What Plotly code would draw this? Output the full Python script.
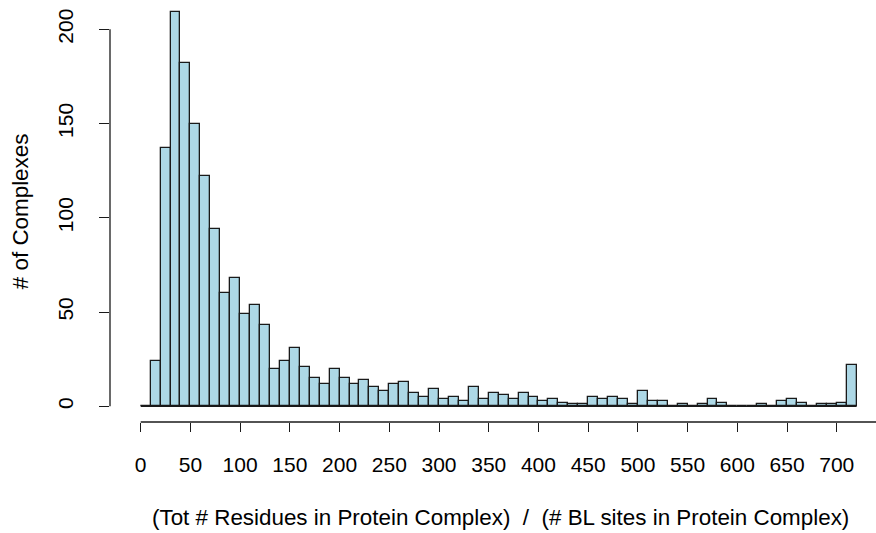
import plotly.graph_objects as go

# Histogram bins: [0,10), [10,20), ..., [710,720)
bin_width = 10
bin_starts = list(range(0, 720, 10))
counts = [0, 24, 137, 209, 182, 150, 122, 94, 60, 68,
          49, 54, 43, 20, 24, 31, 21, 15, 12, 20,
          15, 12, 14, 10, 8, 12, 13, 7, 5, 9,
          4, 5, 3, 10, 4, 7, 6, 4, 7, 5,
          3, 4, 2, 1, 1, 5, 4, 5, 4, 1,
          8, 3, 3, 0, 1, 0, 1, 4, 2, 0,
          0, 0, 1, 0, 3, 4, 2, 0, 1, 1,
          2, 22]
x_ticks = list(range(0, 701, 50))
y_ticks = [0, 50, 100, 150, 200]
x_title = "(Tot # Residues in Protein Complex)\u00a0\u00a0/\u00a0\u00a0(# BL sites in Protein Complex)"
y_title = "# of Complexes"

centers = [s + bin_width / 2 for s in bin_starts]

W, H = 876, 533
L, R, T, B = 110, 0, 10, 111.3
plot_w = W - L - R
plot_h = H - T - B
px_per_x = 0.9944
px_per_y = 1.8835
x0 = -(140.7 - L) / px_per_x
x1 = x0 + plot_w / px_per_x
y0 = -(H - B - 406) / px_per_y
y1 = y0 + plot_h / px_per_y

FONT = "Liberation Sans, Arial, Helvetica, sans-serif"
LINE = "#1a1a1a"

fig = go.Figure()
# baseline for empty bins (R draws flat rectangles)
fig.add_trace(go.Scatter(x=[bin_starts[0], bin_starts[-1] + bin_width], y=[0, 0],
                         mode="lines", line=dict(color=LINE, width=1.3),
                         hoverinfo="skip", showlegend=False))
fig.add_trace(go.Bar(x=centers, y=counts, width=bin_width,
                     marker=dict(color="#ADD8E6", line=dict(color=LINE, width=1.3)),
                     showlegend=False))

# detached R-style axis lines
fig.add_shape(type="line", xref="x", yref="paper", x0=0, x1=x1, y0=0, y1=0,
              line=dict(color=LINE, width=1.3))
fig.add_shape(type="line", xref="paper", yref="y", x0=0, x1=0, y0=0, y1=200,
              line=dict(color=LINE, width=1.3))

fig.update_layout(
    width=W, height=H,
    margin=dict(l=L, r=R, t=T, b=B, pad=0),
    paper_bgcolor="white", plot_bgcolor="white",
    font=dict(family=FONT, size=21, color="black"),
    bargap=0,
    xaxis=dict(range=[x0, x1], tickvals=x_ticks, ticks="outside", ticklen=9,
               tickwidth=1.3, tickcolor=LINE, showgrid=False, zeroline=False,
               showline=False, ticklabelstandoff=15,
               tickfont=dict(family=FONT, size=21)),
    yaxis=dict(range=[y0, y1], tickvals=y_ticks, ticks="outside", ticklen=10,
               tickwidth=1.3, tickcolor=LINE, showgrid=False, zeroline=False,
               showline=False, tickangle=-90, ticklabelstandoff=18,
               tickfont=dict(family=FONT, size=21)),
    annotations=[
        dict(text=x_title, xref="paper", yref="paper",
             x=(500 - L) / plot_w, y=(H - B - 517) / plot_h,
             xanchor="center", yanchor="middle", showarrow=False,
             font=dict(family=FONT, size=22.4)),
        dict(text=y_title, xref="paper", yref="paper",
             x=(20 - L) / plot_w, y=(H - B - 211) / plot_h,
             xanchor="center", yanchor="middle", textangle=-90, showarrow=False,
             font=dict(family=FONT, size=22.4)),
    ],
)

fig.write_html("out.html", config={"displayModeBar": False},
               post_script="document.body.style.margin='0';document.body.style.overflow='hidden';")
